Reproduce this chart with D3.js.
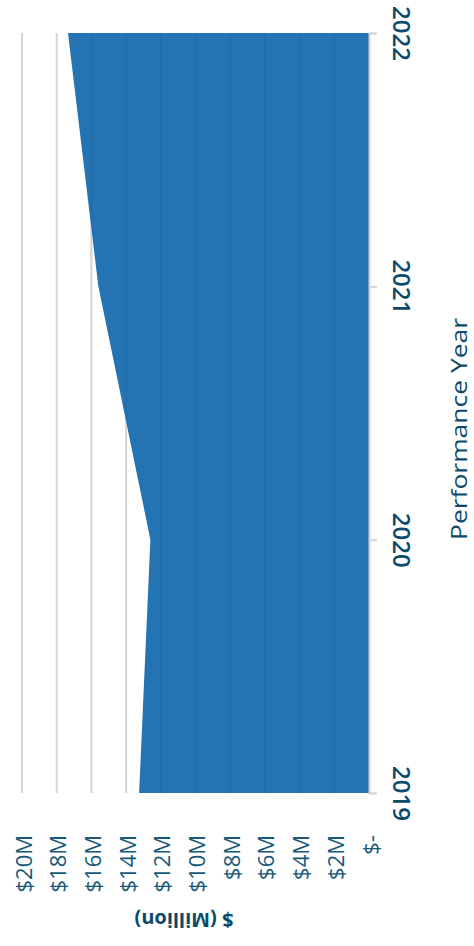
<!DOCTYPE html>
<html>
<head>
<meta charset="utf-8">
<script src="https://cdn.jsdelivr.net/npm/d3@7"></script>
<style>
  html, body { margin: 0; padding: 0; background: #fff; }
  svg { display: block; }
  text { font-family: "Open Sans", "Lato", sans-serif; }
</style>
</head>
<body>
<svg id="chart" width="474" height="946"></svg>
<script>
// ---- data ----
const years = [2019, 2020, 2021, 2022];
const amounts = [13.25, 12.6, 15.6, 17.35]; // $ million
const valueTicks = [0, 2, 4, 6, 8, 10, 12, 14, 16, 18, 20];
const valueTickLabels = ["$-", "$2M", "$4M", "$6M", "$8M", "$10M", "$12M", "$14M", "$16M", "$18M", "$20M"];
const xTitle = "Performance Year";
const yTitle = "$ (Million)";

const data = years.map((y, i) => ({ year: y, value: amounts[i] }));

const svg = d3.select("#chart");

// chart is drawn rotated: years run vertically (bottom->top), values run horizontally (right->left)
const yearScale = d3.scaleLinear().domain([2019, 2022]).range([793, 33]);
const valScale = d3.scaleLinear().domain([0, 20]).range([369, 22]);

const textDark = "#0b4a6b";
const textTick = "#17597a";

// gridlines (under the area)
svg.append("g")
  .selectAll("line")
  .data(valueTicks)
  .join("line")
  .attr("x1", d => valScale(d)).attr("x2", d => valScale(d))
  .attr("y1", yearScale(2022)).attr("y2", yearScale(2019))
  .attr("stroke", "#dcdcdc")
  .attr("stroke-width", 2);

// area
const area = d3.area()
  .y(d => yearScale(d.year))
  .x0(valScale(0))
  .x1(d => valScale(d.value));

svg.append("path")
  .datum(data)
  .attr("d", area)
  .attr("fill", "#2473b3");

// faint gridlines showing through the area
svg.append("g")
  .selectAll("line")
  .data(valueTicks.filter(d => d > 0))
  .join("line")
  .attr("x1", d => valScale(d)).attr("x2", d => valScale(d))
  .attr("y1", yearScale(2022)).attr("y2", yearScale(2019))
  .attr("stroke", "#000")
  .attr("stroke-opacity", 0.035)
  .attr("stroke-width", 2);

// year axis (vertical, on the right)
const yearAxis = d3.axisRight(yearScale)
  .tickValues(years)
  .tickFormat(d3.format("d"))
  .tickSize(8)
  .tickPadding(0);

const ga = svg.append("g")
  .attr("transform", `translate(${valScale(0)},0)`)
  .call(yearAxis);
ga.select(".domain").attr("stroke", "#d6d6d6").attr("stroke-width", 2);
ga.selectAll(".tick line").attr("stroke", "#d6d6d6").attr("stroke-width", 2);
ga.selectAll(".tick text")
  .attr("x", 0).attr("y", 0).attr("dy", null)
  .attr("transform", "translate(24,0) rotate(90)")
  .attr("text-anchor", "middle")
  .attr("dominant-baseline", "alphabetic")
  .attr("fill", textDark)
  .style("font-size", "24px")
  .style("font-weight", 600);

// value axis labels (below)
const valAxis = d3.axisBottom(valScale)
  .tickValues(valueTicks)
  .tickFormat((d, i) => valueTickLabels[i])
  .tickSize(0);

const gv = svg.append("g")
  .attr("transform", "translate(0,835)")
  .call(valAxis);
gv.select(".domain").remove();
gv.selectAll(".tick text")
  .attr("x", 0).attr("y", 0).attr("dy", null)
  .attr("transform", "rotate(-90)")
  .attr("text-anchor", "end")
  .attr("dominant-baseline", "central")
  .attr("fill", textTick)
  .style("font-size", "22px")
  .style("font-weight", 400);

// axis titles
svg.append("text")
  .attr("transform", "translate(458,429) rotate(-90)")
  .attr("text-anchor", "middle")
  .attr("dominant-baseline", "central")
  .attr("fill", textDark)
  .attr("textLength", 222)
  .attr("lengthAdjust", "spacingAndGlyphs")
  .style("font-size", "22px")
  .style("font-weight", 500)
  .text(xTitle);

svg.append("text")
  .attr("transform", "translate(184,920) rotate(180)")
  .attr("text-anchor", "middle")
  .attr("dominant-baseline", "central")
  .attr("fill", textDark)
  .style("font-size", "20px")
  .style("font-weight", 700)
  .text(yTitle);
</script>
</body>
</html>
